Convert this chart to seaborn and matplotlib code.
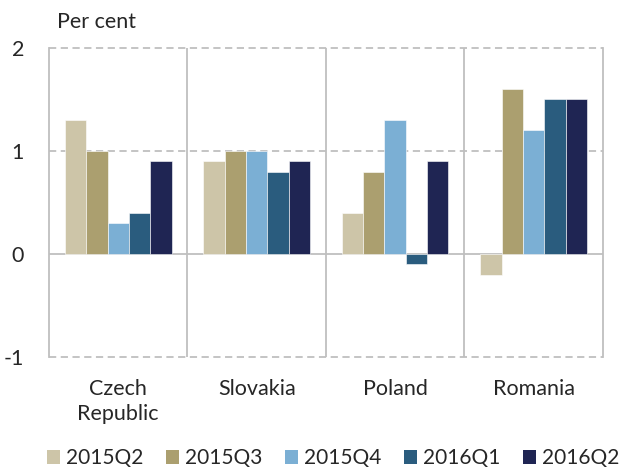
import pandas as pd
import seaborn as sns
import matplotlib.pyplot as plt
from matplotlib.patches import Patch

# Data
countries = ["Czech\nRepublic", "Slovakia", "Poland", "Romania"]
quarters = ["2015Q2", "2015Q3", "2015Q4", "2016Q1", "2016Q2"]
q2015_2 = [1.3, 0.9, 0.4, -0.2]
q2015_3 = [1.0, 1.0, 0.8, 1.6]
q2015_4 = [0.3, 1.0, 1.3, 1.2]
q2016_1 = [0.4, 0.8, -0.1, 1.5]
q2016_2 = [0.9, 0.9, 0.9, 1.5]
colors = ["#CDC5A8", "#AB9F6F", "#7BAFD4", "#2A5C7E", "#1F2553"]

series = [q2015_2, q2015_3, q2015_4, q2016_1, q2016_2]
rows = []
for q, vals in zip(quarters, series):
    for c, v in zip(countries, vals):
        rows.append({"country": c, "quarter": q, "value": v})
df = pd.DataFrame(rows)

sns.set_style("white")
plt.rcParams["font.family"] = ["Lato", "DejaVu Sans"]
fs = 15.5

fig = plt.figure(figsize=(6.24, 4.70), dpi=100)
ax = fig.add_axes([0.0785, 0.2404, 0.8875, 0.6576])

sns.barplot(data=df, x="country", y="value", hue="quarter", order=countries,
            hue_order=quarters, palette=colors, width=0.77, gap=0,
            edgecolor="white", linewidth=0.4, saturation=1, legend=False, ax=ax)

grid = "#BFBFBF"
ax.set_xlim(-0.5, 3.5)
ax.set_ylim(-1, 2)
ax.set_yticks([-1, 0, 1, 2])
ax.set_yticklabels(["-1", "0", "1", "2"])
ax.set_xticks(range(len(countries)))
ax.set_xticklabels(countries, linespacing=1.3)
for y in [-1, 1, 2]:
    ax.axhline(y, color=grid, lw=1.3, ls=(0, (4, 2.5)), clip_on=False, zorder=0)
ax.axhline(0, color=grid, lw=1.3, zorder=0)
for x in [0.5, 1.5, 2.5]:
    ax.axvline(x, color=grid, lw=1.3, zorder=0)

for s in ["top", "bottom"]:
    ax.spines[s].set_visible(False)
for s in ["left", "right"]:
    ax.spines[s].set_color(grid)
    ax.spines[s].set_linewidth(1.3)

ax.tick_params(axis="y", direction="out", length=7, width=1.3, color=grid,
               pad=11, labelsize=fs)
ax.tick_params(axis="x", length=0, pad=16, labelsize=fs)
ax.set_xlabel("")
ax.set_ylabel("")

fig.text(0.091, 0.953, "Per cent", fontsize=fs, ha="left", va="center")

handles = [Patch(facecolor=c, edgecolor="none") for c in colors]
fig.legend(handles, quarters, loc="center left", bbox_to_anchor=(0.075, 0.025),
           ncol=5, frameon=False, fontsize=15, handlelength=0.62,
           handleheight=0.62, handletextpad=0.3, columnspacing=1.08,
           borderaxespad=0, borderpad=0)

fig.savefig("out.png", dpi=100)
